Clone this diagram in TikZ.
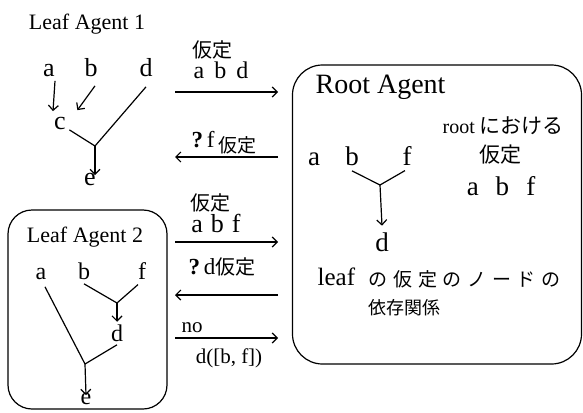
\documentclass[tikz,border=0pt]{standalone}
\usepackage{fontspec}
\setmainfont{Liberation Serif}
\newfontfamily\jpfont{Noto Sans CJK JP}
\usetikzlibrary{arrows.meta}
\newcommand{\setsz}[1]{\fontsize{#1pt}{#1pt}\selectfont}

\begin{document}
\begin{tikzpicture}[x=1pt, y=-1pt, line width=1.2pt,
		>={Straight Barb[length=5pt,width=10pt]},
		lbl/.style={inner sep=0pt, anchor=base},
		jp/.style={inner sep=0pt, font=\jpfont\setsz{#1}},
		agent/.style={draw, rounded corners=#1, inner sep=0pt}]
	\useasboundingbox (0,0) rectangle (583,412);

	% Leaf Agent 1
	\node[lbl, font=\setsz{22}] (lt1) at (87,30) {Leaf Agent 1};
	\node[lbl, font=\setsz{26}] (a1) at (49,76) {a};
	\node[lbl, font=\setsz{26}] (b1) at (91,76) {b};
	\node[lbl, font=\setsz{26}] (d1) at (146,77) {d};
	\node[lbl, font=\setsz{26}] (c1) at (60,129) {c};
	\node[lbl, font=\setsz{26}] (e1) at (90,185) {e};
	\coordinate (j1) at (95,146);
	\draw[->] ([xshift=6pt,yshift=-4pt]a1.south) -- ([xshift=-7pt,yshift=5pt]c1.north);
	\draw[->] ([xshift=4pt,yshift=-9pt]b1.south) -- ([xshift=11pt,yshift=6pt]c1.north east);
	\draw ([xshift=3pt]c1.south east) -- (j1);
	\draw ([yshift=-9pt]d1.south) -- (j1);
	\draw[->] (j1) -- ([xshift=5pt,yshift=-3pt]e1.north);

	% messages
	\coordinate (m1l) at (175,92);
	\coordinate (m1r) at (278,92);
	\coordinate (m2l) at (175,157);
	\coordinate (m2r) at (278,157);
	\coordinate (m3l) at (175,242);
	\coordinate (m3r) at (278,242);
	\coordinate (m4l) at (175,295);
	\coordinate (m4r) at (278,295);
	\coordinate (m5l) at (175,338);
	\coordinate (m5r) at (278,338);
	\draw[->] (m1l) -- (m1r);
	\draw[->] (m2r) -- (m2l);
	\draw[->] (m3l) -- (m3r);
	\draw[->] (m4r) -- (m4l);
	\draw[->] (m5l) -- (m5r);

	\node[jp=20] (h1) at (212,50) {仮定};
	\node[lbl, font=\setsz{24}] (v1) at (221,78) {a\hspace{10pt}b\hspace{10pt}d};
	\node[lbl, anchor=base west, font=\setsz{23}] (q1) at (191,147)
		{{\bfseries ?}\,f\,\raisebox{-5pt}{\jpfont\setsz{19}仮定}};
	\node[jp=20] (h3) at (210,203) {仮定};
	\node[lbl, font=\setsz{26}] (v3) at (216,232) {a\hspace{8pt}b\hspace{8pt}f};
	\node[lbl, anchor=base west, font=\setsz{23}] (q4) at (188,274)
		{{\bfseries ?}\,d{\jpfont\setsz{20}仮定}};
	\node[lbl, font=\setsz{21}] (no5) at (192,332) {no};
	\node[lbl, font=\setsz{21}] (v5) at (229,363) {d([b, f])};

	% Root Agent
	\node[agent=30pt, minimum width=289pt, minimum height=299pt] (rootbox) at (437,214.5) {};
	\node[lbl, anchor=base west, font=\setsz{28}] (rt) at (315,93) {Root Agent};
	\node[lbl, font=\setsz{27}] (a2) at (314,165) {a};
	\node[lbl, font=\setsz{27}] (b2) at (352,165) {b};
	\node[lbl, font=\setsz{27}] (f2) at (407,165) {f};
	\node[lbl, font=\setsz{27}] (d2) at (382,251) {d};
	\coordinate (jr) at (380,185);
	\draw ([yshift=-5pt]b2.south) -- (jr);
	\draw ([xshift=-2pt,yshift=-5pt]f2.south) -- (jr);
	\draw[->] (jr) -- ([yshift=6pt]d2.north);
	\node[lbl, anchor=base west, font=\setsz{20}] (rt1) at (442,133) {root {\jpfont\setsz{21}における}};
	\node[jp=21] (rt2) at (500,155) {仮定};
	\node[lbl, font=\setsz{27}] (rt3) at (501,195) {a\hspace{17pt}b\hspace{17pt}f};
	\node[lbl, anchor=base west, font=\setsz{25}] (lf) at (317,285) {leaf};
	\node[lbl, anchor=base west, font=\jpfont\setsz{19}] (dep1) at (368,286)
		{\makebox[192pt][l]{の\hfill 仮\hfill 定\hfill の\hfill ノ\hfill ー\hfill ド\hfill の}};
	\node[lbl, anchor=base west, font=\jpfont\setsz{18}] (dep2) at (368,314) {依存関係};

	% Leaf Agent 2
	\node[agent=24pt, minimum width=159pt, minimum height=199pt] (leafbox) at (87.5,309.5) {};
	\node[lbl, font=\setsz{22}] (lt2) at (85,242) {Leaf Agent 2};
	\node[lbl, font=\setsz{24}] (a3) at (41,279) {a};
	\node[lbl, font=\setsz{24}] (b3) at (84,279) {b};
	\node[lbl, font=\setsz{24}] (f3) at (142,279) {f};
	\node[lbl, font=\setsz{24}] (d3) at (117,341) {d};
	\node[lbl, font=\setsz{24}] (e3) at (86,404) {e};
	\coordinate (jl1) at (117,303);
	\coordinate (jl2) at (85,364);
	\draw ([yshift=-4pt]b3.south) -- (jl1);
	\draw ([xshift=-4pt,yshift=-5pt]f3.south) -- (jl1);
	\draw[->] (jl1) -- ([yshift=2pt]d3.north);
	\draw ([yshift=-3pt]d3.south) -- (jl2);
	\draw ([xshift=4pt,yshift=-7pt]a3.south) -- (jl2);
	\draw[->] (jl2) -- ([yshift=-3pt]e3.north);
\end{tikzpicture}
\end{document}
